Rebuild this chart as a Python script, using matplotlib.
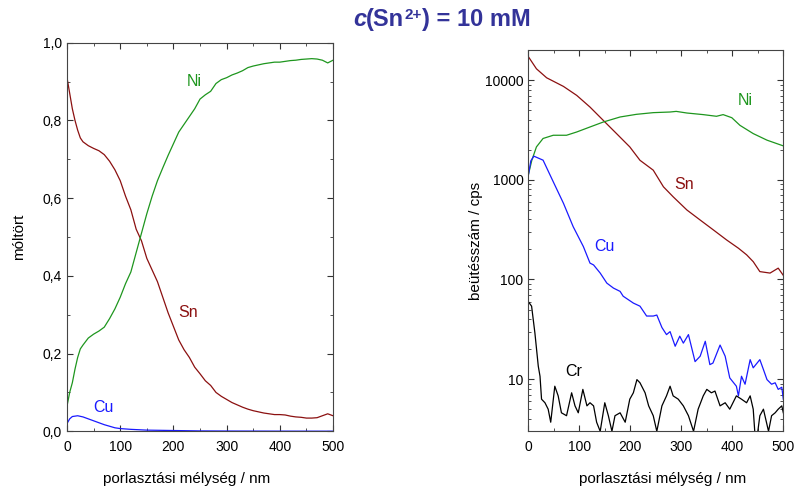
import numpy as np
import matplotlib
matplotlib.use('Agg')
import matplotlib.pyplot as plt
from matplotlib.ticker import MultipleLocator, LogLocator, NullFormatter

plt.rcParams['font.family'] = ['Liberation Sans', 'DejaVu Sans']

# left panel: mole fractions
depth_l = [0, 5, 10, 15, 20, 25, 30, 40, 50, 60, 70, 80, 90, 100, 110, 120, 130, 140, 150,
           160, 170, 180, 190, 200, 210, 220, 230, 240, 250, 260, 270, 280, 290, 300, 310,
           320, 330, 340, 350, 360, 370, 380, 390, 400, 410, 420, 430, 440, 450, 460, 470,
           480, 490, 500]
sn_frac = [0.91, 0.87, 0.83, 0.80, 0.775, 0.755, 0.745, 0.735, 0.728, 0.722, 0.712, 0.695,
           0.673, 0.645, 0.605, 0.57, 0.52, 0.49, 0.445, 0.415, 0.385, 0.345, 0.305, 0.27,
           0.235, 0.21, 0.19, 0.165, 0.148, 0.13, 0.118, 0.10, 0.09, 0.082, 0.074, 0.068,
           0.062, 0.057, 0.053, 0.05, 0.047, 0.045, 0.043, 0.043, 0.042, 0.039, 0.037, 0.036,
           0.034, 0.034, 0.035, 0.04, 0.045, 0.04]
ni_frac = [0.065, 0.1, 0.125, 0.16, 0.19, 0.212, 0.222, 0.24, 0.25, 0.258, 0.268, 0.29,
           0.315, 0.345, 0.38, 0.41, 0.46, 0.51, 0.56, 0.605, 0.645, 0.678, 0.71, 0.74, 0.77,
           0.79, 0.81, 0.83, 0.855, 0.866, 0.875, 0.895, 0.905, 0.91, 0.917, 0.922, 0.928,
           0.936, 0.94, 0.943, 0.946, 0.948, 0.95, 0.95, 0.952, 0.954, 0.955, 0.957, 0.958,
           0.959, 0.958, 0.955, 0.948, 0.955]
depth_cu = [0, 5, 10, 20, 30, 40, 50, 60, 70, 80, 90, 100, 120, 150, 200, 250, 300, 400, 500]
cu_frac = [0.02, 0.032, 0.038, 0.04, 0.037, 0.032, 0.027, 0.022, 0.017, 0.013, 0.009, 0.007,
           0.005, 0.003, 0.002, 0.001, 0.0007, 0.0004, 0.0003]

# right panel: counts
depth_sn = [0, 16, 36, 69, 95, 121, 147, 173, 199, 219, 245, 265, 284, 311, 337, 363, 389,
            412, 428, 441, 454, 474, 490, 500]
sn_cps = [17250, 13000, 10560, 8650, 7030, 5370, 3950, 2910, 2140, 1570, 1250, 851, 676,
          498, 395, 314, 249, 206, 177, 151, 120, 116, 130, 110]
depth_ni = [0, 7, 16, 29, 49, 75, 95, 121, 147, 180, 212, 245, 278, 290, 311, 343, 369, 382,
            399, 415, 441, 468, 500]
ni_cps = [1115, 1575, 2140, 2600, 2800, 2800, 3020, 3390, 3800, 4270, 4540, 4720, 4790,
          4860, 4680, 4510, 4340, 4510, 4200, 3520, 2910, 2500, 2190]
depth_cu_r = [0, 5, 11, 29, 49, 69, 88, 108, 121, 128, 141, 154, 167, 180, 186, 206, 219,
              232, 245, 252, 262, 271, 278, 288, 297, 304, 314, 327, 337, 347, 356, 362, 376,
              386, 395, 408, 412, 418, 425, 435, 441, 454, 461, 468, 477, 484, 490, 497, 500]
cu_cps = [1100, 1550, 1727, 1575, 955, 581, 339, 214, 146, 140, 116, 92, 82, 76, 68, 58, 54,
          43, 43, 44, 33, 28, 30, 21.4, 27, 23, 28, 15, 17, 24, 14, 14.5, 22, 17, 10.3, 8.5,
          6.8, 10.7, 8.9, 15.7, 13, 15.7, 12.5, 9.9, 8.9, 9.2, 7.9, 8.3, 6.3]
depth_cr = [0, 6.5, 13, 19.6, 23, 26, 32.7, 39, 44, 52, 58.6, 65, 75, 85, 91.6, 98, 107, 115,
            121, 128, 134, 141, 150, 157, 164, 170, 180, 190, 199, 206, 213, 219, 229, 236,
            245, 252, 262, 271, 278, 284, 294, 304, 314, 324, 333, 343, 350, 359, 366, 376,
            386, 395, 408, 418, 428, 435, 441, 444, 448, 454, 461, 471, 477, 484, 490, 497, 500]
cr_cps = [60, 54, 29, 13.5, 10.7, 6.3, 5.8, 5, 3.7, 8.5, 6.8, 4.6, 4.3, 7.3, 5.4, 4.6, 7.9,
          5.4, 5.8, 5.4, 3.7, 3.0, 5.8, 4.3, 3.0, 4.3, 4.6, 3.7, 6.3, 7.3, 9.9, 9.2, 7.3, 5.4,
          4.3, 3.0, 5.4, 6.8, 8.5, 6.8, 6.3, 5.4, 4.3, 3.0, 5.0, 6.8, 7.9, 7.3, 7.6, 5.4, 5.8,
          5.0, 6.8, 6.3, 5.8, 6.8, 5.0, 3.0, 2.5, 4.3, 5.0, 3.0, 4.3, 4.6, 5.0, 5.4, 4.6]

left_yticks = [0, 0.2, 0.4, 0.6, 0.8, 1.0]
left_yticklabels = ['0,0', '0,2', '0,4', '0,6', '0,8', '1,0']
xticks = [0, 100, 200, 300, 400, 500]
right_yticks = [10, 100, 1000, 10000]

c_ni = '#1e961e'
c_sn = '#8b1010'
c_cu = '#1a1aff'
c_cr = 'black'
c_title = '#333399'

fig = plt.figure(figsize=(7.95, 4.95), dpi=100)
ax1 = fig.add_axes([0.0843, 0.1287, 0.3346, 0.785])
ax2 = fig.add_axes([0.6645, 0.1287, 0.3208, 0.770])

ax1.plot(depth_l, sn_frac, color=c_sn, lw=0.9)
ax1.plot(depth_l, ni_frac, color=c_ni, lw=0.9)
ax1.plot(depth_cu, cu_frac, color=c_cu, lw=0.9)
ax1.set_xlim(0, 500)
ax1.set_ylim(0, 1.0)
ax1.set_yticks(left_yticks)
ax1.set_yticklabels(left_yticklabels)
ax1.set_xticks(xticks)
ax1.xaxis.set_minor_locator(MultipleLocator(50))
ax1.yaxis.set_minor_locator(MultipleLocator(0.1))
ax1.set_ylabel('móltört', fontsize=11, labelpad=12)
ax1.set_xlabel('porlasztási mélység / nm', fontsize=11)
ax1.xaxis.set_label_coords(0.45, -0.105)
ax1.text(240, 0.9, 'Ni', color=c_ni, fontsize=11.5, ha='center', va='center')
ax1.text(227, 0.305, 'Sn', color=c_sn, fontsize=11.5, ha='center', va='center')
ax1.text(68, 0.06, 'Cu', color=c_cu, fontsize=11.5, ha='center', va='center')

ax2.plot(depth_sn, sn_cps, color=c_sn, lw=0.9)
ax2.plot(depth_ni, ni_cps, color=c_ni, lw=0.9)
ax2.plot(depth_cu_r, cu_cps, color=c_cu, lw=0.9)
ax2.plot(depth_cr, cr_cps, color=c_cr, lw=0.9)
ax2.set_yscale('log')
ax2.set_xlim(0, 500)
ax2.set_ylim(3, 20000)
ax2.set_xticks(xticks)
ax2.set_yticks(right_yticks)
ax2.set_yticklabels([str(v) for v in right_yticks])
ax2.yaxis.set_minor_locator(LogLocator(base=10, subs=np.arange(2, 10)))
ax2.yaxis.set_minor_formatter(NullFormatter())
ax2.xaxis.set_minor_locator(MultipleLocator(50))
ax2.set_ylabel('beütésszám / cps', fontsize=11, labelpad=1)
ax2.set_xlabel('porlasztási mélység / nm', fontsize=11)
ax2.xaxis.set_label_coords(0.528, -0.107)
ax2.text(425, 6270, 'Ni', color=c_ni, fontsize=11.5, ha='center', va='center')
ax2.text(305, 900, 'Sn', color=c_sn, fontsize=11.5, ha='center', va='center')
ax2.text(150, 212, 'Cu', color=c_cu, fontsize=11.5, ha='center', va='center')
ax2.text(89, 11.9, 'Cr', color=c_cr, fontsize=11.5, ha='center', va='center')

for ax in (ax1, ax2):
    ax.tick_params(which='both', direction='in', top=True, right=True, labelsize=10, color='#333333')
    ax.tick_params(which='major', length=4)
    ax.tick_params(which='minor', length=2.5)
    for sp in ax.spines.values():
        sp.set_color('#444444')
    ax.tick_params(axis='x', pad=6)

# title built from pieces: italic c, (Sn, superscript 2+, ) = 10 mM
t1 = fig.text(0.444, 0.938, 'c', color=c_title, fontsize=17, fontweight='bold',
              fontstyle='italic', ha='left', va='bottom')
t2 = ax1.annotate('(Sn', xy=(1, 0), xycoords=t1, color=c_title, fontsize=17,
                  fontweight='bold', ha='left', va='bottom', annotation_clip=False)
t3 = ax1.annotate('2+', xy=(1, 0.38), xycoords=t2, color=c_title, fontsize=11,
                  fontweight='bold', ha='left', va='bottom', annotation_clip=False)
t4 = ax1.annotate(') = 10 mM', xy=(1, 0), xycoords=(t3, t2), color=c_title, fontsize=17,
                  fontweight='bold', ha='left', va='bottom', annotation_clip=False)

fig.savefig('out.png', dpi=100)
